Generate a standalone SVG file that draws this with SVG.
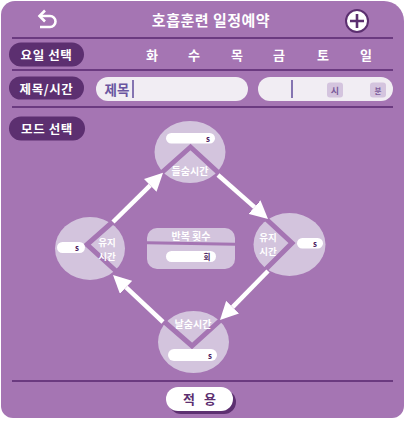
<svg xmlns="http://www.w3.org/2000/svg" width="405" height="421" viewBox="0 0 405 421">
<defs>
<style>
text{font-family:"Noto Sans CJK KR","Noto Sans",sans-serif;font-weight:bold;dominant-baseline:central;text-anchor:middle}
.sep{stroke:#6B3A80;stroke-width:2}
.lbl rect{fill:#5C2F70}
.lbl text{fill:#fff;font-size:12.5px;letter-spacing:0.6px}
.day{fill:#fff;font-size:13px}
.node ellipse,.rep rect.box{fill:#D3C4DD}
.chev{fill:none;stroke:#A575B3;stroke-width:5;stroke-linejoin:miter}
.nt{fill:#fff;font-size:10px}
.nt2{fill:#fff;font-size:9.5px}
.pill{fill:#fff}
.u{fill:#4A2060;font-size:8px}
.arrow{stroke:#fff;stroke-width:4.5;fill:none}
</style>
<marker id="ah" viewBox="0 0 18 18" refX="0" refY="9" markerWidth="18" markerHeight="18" markerUnits="userSpaceOnUse" orient="auto">
<path d="M0,0 L18,9 L0,18 z" fill="#fff"/>
</marker>
</defs>
<rect x="0" y="0" width="405" height="421" fill="#fff"/>
<path d="M15,1 H384 A20,20 0 0 1 404,21 V406 A12,12 0 0 1 392,418 H13 A12,12 0 0 1 1,406 V15 A14,14 0 0 1 15,1 z" fill="#A575B3"/>

<g id="header">
<path d="M40,16 H50 A5.5,5.5 0 0 1 50,27 H40" fill="none" stroke="#fff" stroke-width="2.6"/>
<polyline points="45,10.5 39.5,16 45,21.5" fill="none" stroke="#fff" stroke-width="2.6"/>
<text x="211" y="19" fill="#fff" style="font-size:15px;letter-spacing:0.5px">호흡훈련 일정예약</text>
<circle cx="357" cy="21" r="11" fill="#fff" stroke="#5C2F70" stroke-width="2"/>
<path d="M357,14 V28 M350,21 H364" stroke="#5C2F70" stroke-width="2.6"/>
</g>

<g id="separators">
<line class="sep" x1="12" y1="38" x2="393" y2="38"/>
<line class="sep" x1="12" y1="70" x2="393" y2="70"/>
<line class="sep" x1="12" y1="107" x2="393" y2="107"/>
<line class="sep" x1="12" y1="381" x2="393" y2="381"/>
</g>

<g id="day-select">
<g class="lbl"><rect x="9" y="42.5" width="75" height="24" rx="12"/><text x="46.5" y="54.5">요일 선택</text></g>
<text class="day" x="152" y="54">화</text>
<text class="day" x="194" y="54">수</text>
<text class="day" x="237" y="54">목</text>
<text class="day" x="279" y="54">금</text>
<text class="day" x="323" y="54">토</text>
<text class="day" x="366" y="54">일</text>
</g>

<g id="title-time">
<g class="lbl"><rect x="9" y="76.5" width="75" height="23" rx="11.5"/><text x="46.5" y="88">제목/시간</text></g>
<rect x="96" y="77" width="152" height="24" rx="12" fill="#F1EDF3"/>
<text x="117" y="89" fill="#6A55A0" style="font-size:13.5px">제목</text>
<line x1="133" y1="80" x2="133" y2="98" stroke="#6A55A0" stroke-width="1.6"/>
<rect x="258" y="77" width="135" height="24" rx="12" fill="#F1EDF3"/>
<line x1="292" y1="80" x2="292" y2="98" stroke="#6A55A0" stroke-width="1.6"/>
<rect x="327" y="82.5" width="16" height="15" rx="3" fill="#D4C4DE"/>
<text x="335" y="90" fill="#7A5A9A" style="font-size:9px">시</text>
<rect x="370" y="82.5" width="16" height="15" rx="3" fill="#D4C4DE"/>
<text x="378" y="90" fill="#7A5A9A" style="font-size:7.5px">분</text>
</g>

<g id="mode-label" class="lbl"><rect x="9" y="116.5" width="76" height="24" rx="12"/><text x="47" y="128.5">모드 선택</text></g>

<g id="node-inhale" class="node">
<ellipse cx="190" cy="152" rx="35.5" ry="31"/>
<rect class="pill" x="166" y="133" width="49" height="10.5" rx="5.25"/>
<text class="u" x="208" y="138">s</text>
<polyline class="chev" points="158,176 190.5,147 222,176"/>
<text class="nt" x="190" y="170">들숨시간</text>
</g>

<g id="node-hold-right" class="node">
<ellipse cx="289.5" cy="244.5" rx="36" ry="31.5"/>
<polyline class="chev" points="264,217 292,243 264,271"/>
<rect class="pill" x="297" y="238" width="26" height="10.5" rx="5.25"/>
<text class="u" x="315" y="243">s</text>
<text class="nt2" x="268" y="236.5">유지</text>
<text class="nt2" x="268" y="250.5">시간</text>
</g>

<g id="node-hold-left" class="node">
<ellipse cx="90" cy="248.5" rx="35" ry="31.5"/>
<polyline class="chev" points="116,219 87,244.5 117,272"/>
<rect class="pill" x="57" y="242" width="28" height="11" rx="5.5"/>
<text class="u" x="77" y="247.5">s</text>
<text class="nt2" x="107" y="242">유지</text>
<text class="nt2" x="107" y="256">시간</text>
</g>

<g id="node-exhale" class="node">
<ellipse cx="193.5" cy="342" rx="35.5" ry="31"/>
<polyline class="chev" points="160,318 192,346 224,317"/>
<rect class="pill" x="168" y="349" width="49" height="12" rx="6"/>
<text class="u" x="210" y="355">s</text>
<text class="nt" x="193" y="323">날숨시간</text>
</g>

<g id="repeat-count" class="rep">
<rect class="box" x="147" y="228" width="88" height="41" rx="10"/>
<line x1="147" y1="242.7" x2="235" y2="244.2" stroke="#A575B3" stroke-width="3"/>
<text class="nt" x="191" y="235.5">반복 횟수</text>
<rect class="pill" x="166" y="251" width="50" height="11" rx="5.5"/>
<text class="u" x="207" y="256.5" style="font-size:7.5px">회</text>
</g>

<g id="connectors">
<line class="arrow" x1="113" y1="222" x2="150.2" y2="185.4" marker-end="url(#ah)"/>
<line class="arrow" x1="218" y1="175" x2="254.5" y2="207.1" marker-end="url(#ah)"/>
<line class="arrow" x1="268" y1="271" x2="232.6" y2="307.1" marker-end="url(#ah)"/>
<line class="arrow" x1="163" y1="322" x2="126.1" y2="287.3" marker-end="url(#ah)"/>
</g>

<g id="apply-button">
<rect x="169" y="390" width="67" height="24" rx="12" fill="#5C2F70"/>
<rect x="166" y="387" width="67" height="24" rx="12" fill="#fff"/>
<text x="189" y="398.5" fill="#5C2F70" style="font-size:13px">적</text>
<text x="210" y="398.5" fill="#5C2F70" style="font-size:13px">용</text>
</g>
</svg>
